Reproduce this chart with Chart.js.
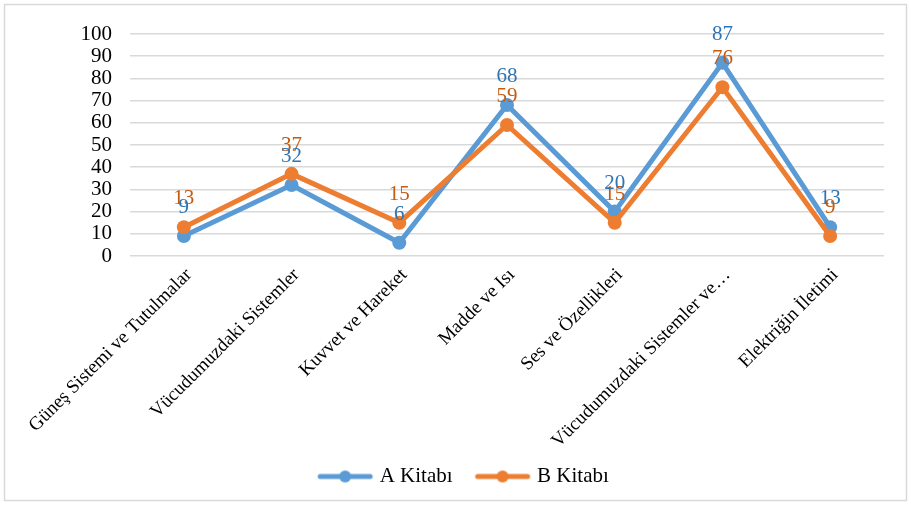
<!DOCTYPE html>
<html>
<head>
<meta charset="utf-8">
<script src="https://cdn.jsdelivr.net/npm/chart.js@4/dist/chart.umd.min.js"></script>
<style>
  html, body { margin: 0; padding: 0; background: #fff; }
  #wrap { width: 911px; height: 511px; }
</style>
</head>
<body>
<div id="wrap"><canvas id="myChart" width="911" height="511"></canvas></div>
<script>
const ctx = document.getElementById('myChart').getContext('2d');
const FONT = '"Liberation Serif", "Times New Roman", serif';

const categories = [
	'Güneş Sistemi ve Tutulmalar',
	'Vücudumuzdaki Sistemler',
	'Kuvvet ve Hareket',
	'Madde ve Isı',
	'Ses ve Özellikleri',
	'Vücudumuzdaki Sistemler ve…',
	'Elektriğin İletimi'
];
const aKitabi = [9, 32, 6, 68, 20, 87, 13];
const bKitabi = [13, 37, 15, 59, 15, 76, 9];
const seriesNames = ['A Kitabı', 'B Kitabı'];
const yTicks = [0, 10, 20, 30, 40, 50, 60, 70, 80, 90, 100];

const BLUE = '#5B9BD5';
const ORANGE = '#ED7D31';
const labelColors = ['#2E75B6', '#C55A11'];

// line + dot symbol for the legend (wider than the box so the text sits close)
function legendSymbol(color) {
	const c = document.createElement('canvas');
	c.width = 62;
	c.height = 16;
	const g = c.getContext('2d');
	g.strokeStyle = color;
	g.lineWidth = 5;
	g.lineCap = 'round';
	g.beginPath();
	g.moveTo(8, 8);
	g.lineTo(58, 8);
	g.stroke();
	g.fillStyle = color;
	g.beginPath();
	g.arc(33, 8, 6, 0, Math.PI * 2);
	g.fill();
	return c;
}
const symbols = [legendSymbol(BLUE), legendSymbol(ORANGE)];

// value labels above each point
const valueLabels = {
	id: 'valueLabels',
	afterDatasetsDraw(chart) {
		const c = chart.ctx;
		c.save();
		c.font = '21px ' + FONT;
		c.textAlign = 'center';
		c.textBaseline = 'alphabetic';
		[1, 0].forEach((i) => {
			const meta = chart.getDatasetMeta(i);
			c.fillStyle = labelColors[i];
			meta.data.forEach((pt, j) => {
				c.fillText(String(chart.data.datasets[i].data[j]), pt.x, pt.y - 23);
			});
		});
		c.restore();
	}
};

const frame = {
	id: 'frame',
	beforeDraw(chart) {
		const c = chart.ctx;
		c.save();
		c.strokeStyle = '#D9D9D9';
		c.lineWidth = 1.5;
		c.strokeRect(4.5, 4.5, 902, 496);
		c.restore();
	}
};

new Chart(ctx, {
	type: 'line',
	data: {
		labels: categories,
		datasets: [{
			label: seriesNames[0],
			data: aKitabi,
			borderColor: BLUE,
			backgroundColor: BLUE,
			borderWidth: 5,
			pointRadius: 7,
			pointHoverRadius: 7,
			pointBorderWidth: 0,
			order: 1
		},
		{
			label: seriesNames[1],
			data: bKitabi,
			borderColor: ORANGE,
			backgroundColor: ORANGE,
			borderWidth: 5,
			pointRadius: 7,
			pointHoverRadius: 7,
			pointBorderWidth: 0,
			order: 0
		}]
	},
	options: {
		responsive: false,
		animation: false,
		layout: {
			padding: { top: 34, left: 42, right: 27, bottom: 14 }
		},
		plugins: {
			tooltip: { enabled: false },
			legend: {
				position: 'bottom',
				labels: {
					color: '#000',
					font: { family: FONT, size: 21 },
					usePointStyle: true,
					pointStyleWidth: 52,
					padding: 22,
					generateLabels(chart) {
						return chart.data.datasets.map((ds, i) => ({
							text: ds.label,
							pointStyle: symbols[i],
							fillStyle: ds.borderColor,
							strokeStyle: ds.borderColor,
							lineWidth: 0,
							fontColor: '#000',
							hidden: false,
							datasetIndex: i
						}));
					}
				}
			}
		},
		scales: {
			x: {
				grid: { display: false, drawTicks: false },
				border: { display: false },
				offset: true,
				ticks: {
					color: '#000',
					font: { family: FONT, size: 19 },
					minRotation: 45,
					maxRotation: 45,
					autoSkip: false,
					padding: 8,
					labelOffset: 5
				},
				afterFit(scale) {
					scale.height = 188;
				}
			},
			y: {
				min: 0,
				max: 100,
				afterBuildTicks(scale) {
					scale.ticks = yTicks.map((v) => ({ value: v }));
				},
				grid: {
					color: '#D9D9D9',
					lineWidth: 1.5,
					drawTicks: false
				},
				border: { display: false },
				ticks: {
					color: '#000',
					font: { family: FONT, size: 21 },
					padding: 18,
					autoSkip: false
				},
				afterFit(scale) {
					scale.width = 88;
				}
			}
		}
	},
	plugins: [frame, valueLabels]
});
</script>
</body>
</html>
